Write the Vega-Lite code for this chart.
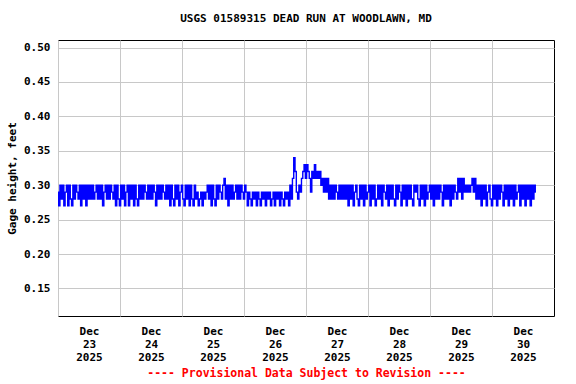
{
"$schema": "https://vega.github.io/schema/vega-lite/v6.json",
"width": 496, "height": 276,
"autosize": {"type": "none"},
"padding": {"left": 58, "top": 40, "right": 22, "bottom": 68},
"background": "white",
"title": {"text": "USGS 01589315 DEAD RUN AT WOODLAWN, MD", "font": "DejaVu Sans Mono", "fontSize": 11, "fontWeight": "bold", "color": "black", "anchor": "middle", "offset": 16},
"config": {
  "view": {"stroke": "black", "strokeWidth": 1},
  "axis": {"gridColor": "#c8c8c8", "gridWidth": 1, "domain": false, "ticks": false,
    "labelFont": "DejaVu Sans Mono", "labelFontSize": 11, "labelFontWeight": "bold", "labelColor": "black",
    "titleFont": "DejaVu Sans Mono", "titleFontSize": 11, "titleFontWeight": "bold", "titleColor": "black"}
},
"data": {"values": [
{"t":"2025-12-23T00:00","v":0.29},{"t":"2025-12-23T00:30","v":0.27},{"t":"2025-12-23T01:00","v":0.30},{"t":"2025-12-23T01:30","v":0.28},{"t":"2025-12-23T02:00","v":0.30},{"t":"2025-12-23T02:30","v":0.27},{"t":"2025-12-23T03:00","v":0.29},{"t":"2025-12-23T03:30","v":0.30},{"t":"2025-12-23T04:00","v":0.27},{"t":"2025-12-23T04:30","v":0.30},{"t":"2025-12-23T05:00","v":0.28},{"t":"2025-12-23T05:30","v":0.27},{"t":"2025-12-23T06:00","v":0.30},{"t":"2025-12-23T06:30","v":0.28},{"t":"2025-12-23T07:00","v":0.30},{"t":"2025-12-23T07:30","v":0.29},{"t":"2025-12-23T08:00","v":0.28},{"t":"2025-12-23T08:30","v":0.30},{"t":"2025-12-23T09:00","v":0.27},{"t":"2025-12-23T09:30","v":0.30},{"t":"2025-12-23T10:00","v":0.28},{"t":"2025-12-23T10:30","v":0.30},{"t":"2025-12-23T11:00","v":0.27},{"t":"2025-12-23T11:30","v":0.30},{"t":"2025-12-23T12:00","v":0.28},{"t":"2025-12-23T12:30","v":0.30},{"t":"2025-12-23T13:00","v":0.28},{"t":"2025-12-23T13:30","v":0.30},{"t":"2025-12-23T14:00","v":0.28},{"t":"2025-12-23T14:30","v":0.29},{"t":"2025-12-23T15:00","v":0.30},{"t":"2025-12-23T15:30","v":0.28},{"t":"2025-12-23T16:00","v":0.30},{"t":"2025-12-23T16:30","v":0.28},{"t":"2025-12-23T17:00","v":0.30},{"t":"2025-12-23T17:30","v":0.27},{"t":"2025-12-23T18:00","v":0.29},{"t":"2025-12-23T18:30","v":0.30},{"t":"2025-12-23T19:00","v":0.28},{"t":"2025-12-23T19:30","v":0.30},{"t":"2025-12-23T20:00","v":0.28},{"t":"2025-12-23T20:30","v":0.30},{"t":"2025-12-23T21:00","v":0.29},{"t":"2025-12-23T21:30","v":0.28},{"t":"2025-12-23T22:00","v":0.30},{"t":"2025-12-23T22:30","v":0.27},{"t":"2025-12-23T23:00","v":0.30},{"t":"2025-12-23T23:30","v":0.28},
{"t":"2025-12-24T00:00","v":0.27},{"t":"2025-12-24T00:30","v":0.30},{"t":"2025-12-24T01:00","v":0.28},{"t":"2025-12-24T01:30","v":0.30},{"t":"2025-12-24T02:00","v":0.27},{"t":"2025-12-24T02:30","v":0.29},{"t":"2025-12-24T03:00","v":0.30},{"t":"2025-12-24T03:30","v":0.27},{"t":"2025-12-24T04:00","v":0.30},{"t":"2025-12-24T04:30","v":0.28},{"t":"2025-12-24T05:00","v":0.30},{"t":"2025-12-24T05:30","v":0.27},{"t":"2025-12-24T06:00","v":0.30},{"t":"2025-12-24T06:30","v":0.28},{"t":"2025-12-24T07:00","v":0.27},{"t":"2025-12-24T07:30","v":0.30},{"t":"2025-12-24T08:00","v":0.28},{"t":"2025-12-24T08:30","v":0.30},{"t":"2025-12-24T09:00","v":0.28},{"t":"2025-12-24T09:30","v":0.30},{"t":"2025-12-24T10:00","v":0.29},{"t":"2025-12-24T10:30","v":0.28},{"t":"2025-12-24T11:00","v":0.30},{"t":"2025-12-24T11:30","v":0.28},{"t":"2025-12-24T12:00","v":0.30},{"t":"2025-12-24T12:30","v":0.28},{"t":"2025-12-24T13:00","v":0.30},{"t":"2025-12-24T13:30","v":0.29},{"t":"2025-12-24T14:00","v":0.27},{"t":"2025-12-24T14:30","v":0.30},{"t":"2025-12-24T15:00","v":0.28},{"t":"2025-12-24T15:30","v":0.30},{"t":"2025-12-24T16:00","v":0.28},{"t":"2025-12-24T16:30","v":0.30},{"t":"2025-12-24T17:00","v":0.29},{"t":"2025-12-24T17:30","v":0.28},{"t":"2025-12-24T18:00","v":0.30},{"t":"2025-12-24T18:30","v":0.28},{"t":"2025-12-24T19:00","v":0.30},{"t":"2025-12-24T19:30","v":0.27},{"t":"2025-12-24T20:00","v":0.30},{"t":"2025-12-24T20:30","v":0.28},{"t":"2025-12-24T21:00","v":0.27},{"t":"2025-12-24T21:30","v":0.30},{"t":"2025-12-24T22:00","v":0.28},{"t":"2025-12-24T22:30","v":0.30},{"t":"2025-12-24T23:00","v":0.27},{"t":"2025-12-24T23:30","v":0.29},
{"t":"2025-12-25T00:00","v":0.30},{"t":"2025-12-25T00:30","v":0.28},{"t":"2025-12-25T01:00","v":0.27},{"t":"2025-12-25T01:30","v":0.30},{"t":"2025-12-25T02:00","v":0.28},{"t":"2025-12-25T02:30","v":0.30},{"t":"2025-12-25T03:00","v":0.27},{"t":"2025-12-25T03:30","v":0.30},{"t":"2025-12-25T04:00","v":0.28},{"t":"2025-12-25T04:30","v":0.27},{"t":"2025-12-25T05:00","v":0.30},{"t":"2025-12-25T05:30","v":0.28},{"t":"2025-12-25T06:00","v":0.29},{"t":"2025-12-25T06:30","v":0.27},{"t":"2025-12-25T07:00","v":0.28},{"t":"2025-12-25T07:30","v":0.29},{"t":"2025-12-25T08:00","v":0.27},{"t":"2025-12-25T08:30","v":0.29},{"t":"2025-12-25T09:00","v":0.28},{"t":"2025-12-25T09:30","v":0.29},{"t":"2025-12-25T10:00","v":0.30},{"t":"2025-12-25T10:30","v":0.28},{"t":"2025-12-25T11:00","v":0.30},{"t":"2025-12-25T11:30","v":0.27},{"t":"2025-12-25T12:00","v":0.30},{"t":"2025-12-25T12:30","v":0.28},{"t":"2025-12-25T13:00","v":0.27},{"t":"2025-12-25T13:30","v":0.30},{"t":"2025-12-25T14:00","v":0.28},{"t":"2025-12-25T14:30","v":0.30},{"t":"2025-12-25T15:00","v":0.29},{"t":"2025-12-25T15:30","v":0.28},{"t":"2025-12-25T16:00","v":0.30},{"t":"2025-12-25T16:30","v":0.31},{"t":"2025-12-25T17:00","v":0.28},{"t":"2025-12-25T17:30","v":0.30},{"t":"2025-12-25T18:00","v":0.27},{"t":"2025-12-25T18:30","v":0.30},{"t":"2025-12-25T19:00","v":0.28},{"t":"2025-12-25T19:30","v":0.30},{"t":"2025-12-25T20:00","v":0.28},{"t":"2025-12-25T20:30","v":0.29},{"t":"2025-12-25T21:00","v":0.30},{"t":"2025-12-25T21:30","v":0.28},{"t":"2025-12-25T22:00","v":0.30},{"t":"2025-12-25T22:30","v":0.28},{"t":"2025-12-25T23:00","v":0.30},{"t":"2025-12-25T23:30","v":0.29},
{"t":"2025-12-26T00:00","v":0.28},{"t":"2025-12-26T00:30","v":0.30},{"t":"2025-12-26T01:00","v":0.29},{"t":"2025-12-26T01:30","v":0.27},{"t":"2025-12-26T02:00","v":0.29},{"t":"2025-12-26T02:30","v":0.28},{"t":"2025-12-26T03:00","v":0.27},{"t":"2025-12-26T03:30","v":0.29},{"t":"2025-12-26T04:00","v":0.28},{"t":"2025-12-26T04:30","v":0.29},{"t":"2025-12-26T05:00","v":0.27},{"t":"2025-12-26T05:30","v":0.29},{"t":"2025-12-26T06:00","v":0.28},{"t":"2025-12-26T06:30","v":0.27},{"t":"2025-12-26T07:00","v":0.29},{"t":"2025-12-26T07:30","v":0.28},{"t":"2025-12-26T08:00","v":0.29},{"t":"2025-12-26T08:30","v":0.27},{"t":"2025-12-26T09:00","v":0.29},{"t":"2025-12-26T09:30","v":0.28},{"t":"2025-12-26T10:00","v":0.29},{"t":"2025-12-26T10:30","v":0.27},{"t":"2025-12-26T11:00","v":0.28},{"t":"2025-12-26T11:30","v":0.29},{"t":"2025-12-26T12:00","v":0.27},{"t":"2025-12-26T12:30","v":0.29},{"t":"2025-12-26T13:00","v":0.28},{"t":"2025-12-26T13:30","v":0.29},{"t":"2025-12-26T14:00","v":0.27},{"t":"2025-12-26T14:30","v":0.29},{"t":"2025-12-26T15:00","v":0.28},{"t":"2025-12-26T15:30","v":0.27},{"t":"2025-12-26T16:00","v":0.29},{"t":"2025-12-26T16:30","v":0.28},{"t":"2025-12-26T17:00","v":0.29},{"t":"2025-12-26T17:30","v":0.27},{"t":"2025-12-26T18:00","v":0.30},{"t":"2025-12-26T18:30","v":0.28},{"t":"2025-12-26T19:00","v":0.31},{"t":"2025-12-26T19:30","v":0.34},{"t":"2025-12-26T20:00","v":0.32},{"t":"2025-12-26T20:30","v":0.29},{"t":"2025-12-26T21:00","v":0.28},{"t":"2025-12-26T21:30","v":0.30},{"t":"2025-12-26T22:00","v":0.29},{"t":"2025-12-26T22:30","v":0.31},{"t":"2025-12-26T23:00","v":0.32},{"t":"2025-12-26T23:30","v":0.33},
{"t":"2025-12-27T00:00","v":0.31},{"t":"2025-12-27T00:30","v":0.33},{"t":"2025-12-27T01:00","v":0.32},{"t":"2025-12-27T01:30","v":0.31},{"t":"2025-12-27T02:00","v":0.29},{"t":"2025-12-27T02:30","v":0.32},{"t":"2025-12-27T03:00","v":0.31},{"t":"2025-12-27T03:30","v":0.33},{"t":"2025-12-27T04:00","v":0.31},{"t":"2025-12-27T04:30","v":0.32},{"t":"2025-12-27T05:00","v":0.31},{"t":"2025-12-27T05:30","v":0.32},{"t":"2025-12-27T06:00","v":0.30},{"t":"2025-12-27T06:30","v":0.31},{"t":"2025-12-27T07:00","v":0.29},{"t":"2025-12-27T07:30","v":0.31},{"t":"2025-12-27T08:00","v":0.29},{"t":"2025-12-27T08:30","v":0.31},{"t":"2025-12-27T09:00","v":0.28},{"t":"2025-12-27T09:30","v":0.30},{"t":"2025-12-27T10:00","v":0.28},{"t":"2025-12-27T10:30","v":0.30},{"t":"2025-12-27T11:00","v":0.28},{"t":"2025-12-27T11:30","v":0.30},{"t":"2025-12-27T12:00","v":0.29},{"t":"2025-12-27T12:30","v":0.28},{"t":"2025-12-27T13:00","v":0.30},{"t":"2025-12-27T13:30","v":0.28},{"t":"2025-12-27T14:00","v":0.30},{"t":"2025-12-27T14:30","v":0.28},{"t":"2025-12-27T15:00","v":0.30},{"t":"2025-12-27T15:30","v":0.28},{"t":"2025-12-27T16:00","v":0.30},{"t":"2025-12-27T16:30","v":0.27},{"t":"2025-12-27T17:00","v":0.30},{"t":"2025-12-27T17:30","v":0.28},{"t":"2025-12-27T18:00","v":0.30},{"t":"2025-12-27T18:30","v":0.27},{"t":"2025-12-27T19:00","v":0.29},{"t":"2025-12-27T19:30","v":0.30},{"t":"2025-12-27T20:00","v":0.28},{"t":"2025-12-27T20:30","v":0.27},{"t":"2025-12-27T21:00","v":0.30},{"t":"2025-12-27T21:30","v":0.28},{"t":"2025-12-27T22:00","v":0.30},{"t":"2025-12-27T22:30","v":0.27},{"t":"2025-12-27T23:00","v":0.30},{"t":"2025-12-27T23:30","v":0.28},
{"t":"2025-12-28T00:00","v":0.29},{"t":"2025-12-28T00:30","v":0.30},{"t":"2025-12-28T01:00","v":0.27},{"t":"2025-12-28T01:30","v":0.30},{"t":"2025-12-28T02:00","v":0.28},{"t":"2025-12-28T02:30","v":0.30},{"t":"2025-12-28T03:00","v":0.27},{"t":"2025-12-28T03:30","v":0.28},{"t":"2025-12-28T04:00","v":0.30},{"t":"2025-12-28T04:30","v":0.28},{"t":"2025-12-28T05:00","v":0.30},{"t":"2025-12-28T05:30","v":0.27},{"t":"2025-12-28T06:00","v":0.30},{"t":"2025-12-28T06:30","v":0.29},{"t":"2025-12-28T07:00","v":0.28},{"t":"2025-12-28T07:30","v":0.30},{"t":"2025-12-28T08:00","v":0.27},{"t":"2025-12-28T08:30","v":0.30},{"t":"2025-12-28T09:00","v":0.28},{"t":"2025-12-28T09:30","v":0.30},{"t":"2025-12-28T10:00","v":0.28},{"t":"2025-12-28T10:30","v":0.27},{"t":"2025-12-28T11:00","v":0.30},{"t":"2025-12-28T11:30","v":0.28},{"t":"2025-12-28T12:00","v":0.30},{"t":"2025-12-28T12:30","v":0.29},{"t":"2025-12-28T13:00","v":0.27},{"t":"2025-12-28T13:30","v":0.30},{"t":"2025-12-28T14:00","v":0.28},{"t":"2025-12-28T14:30","v":0.30},{"t":"2025-12-28T15:00","v":0.27},{"t":"2025-12-28T15:30","v":0.30},{"t":"2025-12-28T16:00","v":0.28},{"t":"2025-12-28T16:30","v":0.30},{"t":"2025-12-28T17:00","v":0.28},{"t":"2025-12-28T17:30","v":0.27},{"t":"2025-12-28T18:00","v":0.30},{"t":"2025-12-28T18:30","v":0.29},{"t":"2025-12-28T19:00","v":0.30},{"t":"2025-12-28T19:30","v":0.28},{"t":"2025-12-28T20:00","v":0.27},{"t":"2025-12-28T20:30","v":0.30},{"t":"2025-12-28T21:00","v":0.28},{"t":"2025-12-28T21:30","v":0.30},{"t":"2025-12-28T22:00","v":0.27},{"t":"2025-12-28T22:30","v":0.30},{"t":"2025-12-28T23:00","v":0.28},{"t":"2025-12-28T23:30","v":0.29},
{"t":"2025-12-29T00:00","v":0.30},{"t":"2025-12-29T00:30","v":0.28},{"t":"2025-12-29T01:00","v":0.30},{"t":"2025-12-29T01:30","v":0.27},{"t":"2025-12-29T02:00","v":0.30},{"t":"2025-12-29T02:30","v":0.28},{"t":"2025-12-29T03:00","v":0.30},{"t":"2025-12-29T03:30","v":0.28},{"t":"2025-12-29T04:00","v":0.30},{"t":"2025-12-29T04:30","v":0.29},{"t":"2025-12-29T05:00","v":0.27},{"t":"2025-12-29T05:30","v":0.30},{"t":"2025-12-29T06:00","v":0.28},{"t":"2025-12-29T06:30","v":0.30},{"t":"2025-12-29T07:00","v":0.28},{"t":"2025-12-29T07:30","v":0.30},{"t":"2025-12-29T08:00","v":0.27},{"t":"2025-12-29T08:30","v":0.30},{"t":"2025-12-29T09:00","v":0.28},{"t":"2025-12-29T09:30","v":0.30},{"t":"2025-12-29T10:00","v":0.29},{"t":"2025-12-29T10:30","v":0.28},{"t":"2025-12-29T11:00","v":0.31},{"t":"2025-12-29T11:30","v":0.29},{"t":"2025-12-29T12:00","v":0.31},{"t":"2025-12-29T12:30","v":0.28},{"t":"2025-12-29T13:00","v":0.31},{"t":"2025-12-29T13:30","v":0.29},{"t":"2025-12-29T14:00","v":0.30},{"t":"2025-12-29T14:30","v":0.29},{"t":"2025-12-29T15:00","v":0.30},{"t":"2025-12-29T15:30","v":0.29},{"t":"2025-12-29T16:00","v":0.30},{"t":"2025-12-29T16:30","v":0.31},{"t":"2025-12-29T17:00","v":0.29},{"t":"2025-12-29T17:30","v":0.31},{"t":"2025-12-29T18:00","v":0.28},{"t":"2025-12-29T18:30","v":0.30},{"t":"2025-12-29T19:00","v":0.28},{"t":"2025-12-29T19:30","v":0.30},{"t":"2025-12-29T20:00","v":0.27},{"t":"2025-12-29T20:30","v":0.30},{"t":"2025-12-29T21:00","v":0.28},{"t":"2025-12-29T21:30","v":0.30},{"t":"2025-12-29T22:00","v":0.27},{"t":"2025-12-29T22:30","v":0.29},{"t":"2025-12-29T23:00","v":0.30},{"t":"2025-12-29T23:30","v":0.28},
{"t":"2025-12-30T00:00","v":0.27},{"t":"2025-12-30T00:30","v":0.30},{"t":"2025-12-30T01:00","v":0.28},{"t":"2025-12-30T01:30","v":0.30},{"t":"2025-12-30T02:00","v":0.27},{"t":"2025-12-30T02:30","v":0.30},{"t":"2025-12-30T03:00","v":0.28},{"t":"2025-12-30T03:30","v":0.30},{"t":"2025-12-30T04:00","v":0.29},{"t":"2025-12-30T04:30","v":0.27},{"t":"2025-12-30T05:00","v":0.30},{"t":"2025-12-30T05:30","v":0.28},{"t":"2025-12-30T06:00","v":0.30},{"t":"2025-12-30T06:30","v":0.27},{"t":"2025-12-30T07:00","v":0.30},{"t":"2025-12-30T07:30","v":0.28},{"t":"2025-12-30T08:00","v":0.30},{"t":"2025-12-30T08:30","v":0.27},{"t":"2025-12-30T09:00","v":0.30},{"t":"2025-12-30T09:30","v":0.28},{"t":"2025-12-30T10:00","v":0.29},{"t":"2025-12-30T10:30","v":0.30},{"t":"2025-12-30T11:00","v":0.27},{"t":"2025-12-30T11:30","v":0.30},{"t":"2025-12-30T12:00","v":0.28},{"t":"2025-12-30T12:30","v":0.30},{"t":"2025-12-30T13:00","v":0.27},{"t":"2025-12-30T13:30","v":0.30},{"t":"2025-12-30T14:00","v":0.28},{"t":"2025-12-30T14:30","v":0.30},{"t":"2025-12-30T15:00","v":0.27},{"t":"2025-12-30T15:30","v":0.30},{"t":"2025-12-30T16:00","v":0.28},{"t":"2025-12-30T16:30","v":0.30},{"t":"2025-12-30T17:00","v":0.29}
]},
"mark": {"type": "line", "color": "#0000ff", "strokeWidth": 1.4, "interpolate": "step", "clip": true},
"encoding": {
  "x": {"field": "t", "type": "temporal",
    "scale": {"domain": [{"year": 2025, "month": 12, "date": 23}, {"year": 2025, "month": 12, "date": 31}]},
    "axis": {"values": [{"year": 2025, "month": 12, "date": 23}, {"year": 2025, "month": 12, "date": 24}, {"year": 2025, "month": 12, "date": 25}, {"year": 2025, "month": 12, "date": 26}, {"year": 2025, "month": 12, "date": 27}, {"year": 2025, "month": 12, "date": 28}, {"year": 2025, "month": 12, "date": 29}, {"year": 2025, "month": 12, "date": 30}],
      "labelExpr": "[timeFormat(datum.value, '%b'), timeFormat(datum.value, '%d'), timeFormat(datum.value, '%Y')]",
      "labelOffset": 31, "labelPadding": 9, "labelLineHeight": 13, "labelBaseline": "top", "labelAngle": 0,
      "labelOverlap": false, "labelFlush": false, "labelBound": false,
      "title": "---- Provisional Data Subject to Revision ----", "titleColor": "#ff0000", "titleFontSize": 11.5, "titlePadding": 5}},
  "y": {"field": "v", "type": "quantitative",
    "scale": {"domain": [0.110, 0.511], "nice": false, "zero": false},
    "axis": {"values": [0.15, 0.20, 0.25, 0.30, 0.35, 0.40, 0.45, 0.50], "format": ".2f", "labelPadding": 8,
      "title": "Gage height, feet", "titlePadding": 6}}
}
}
